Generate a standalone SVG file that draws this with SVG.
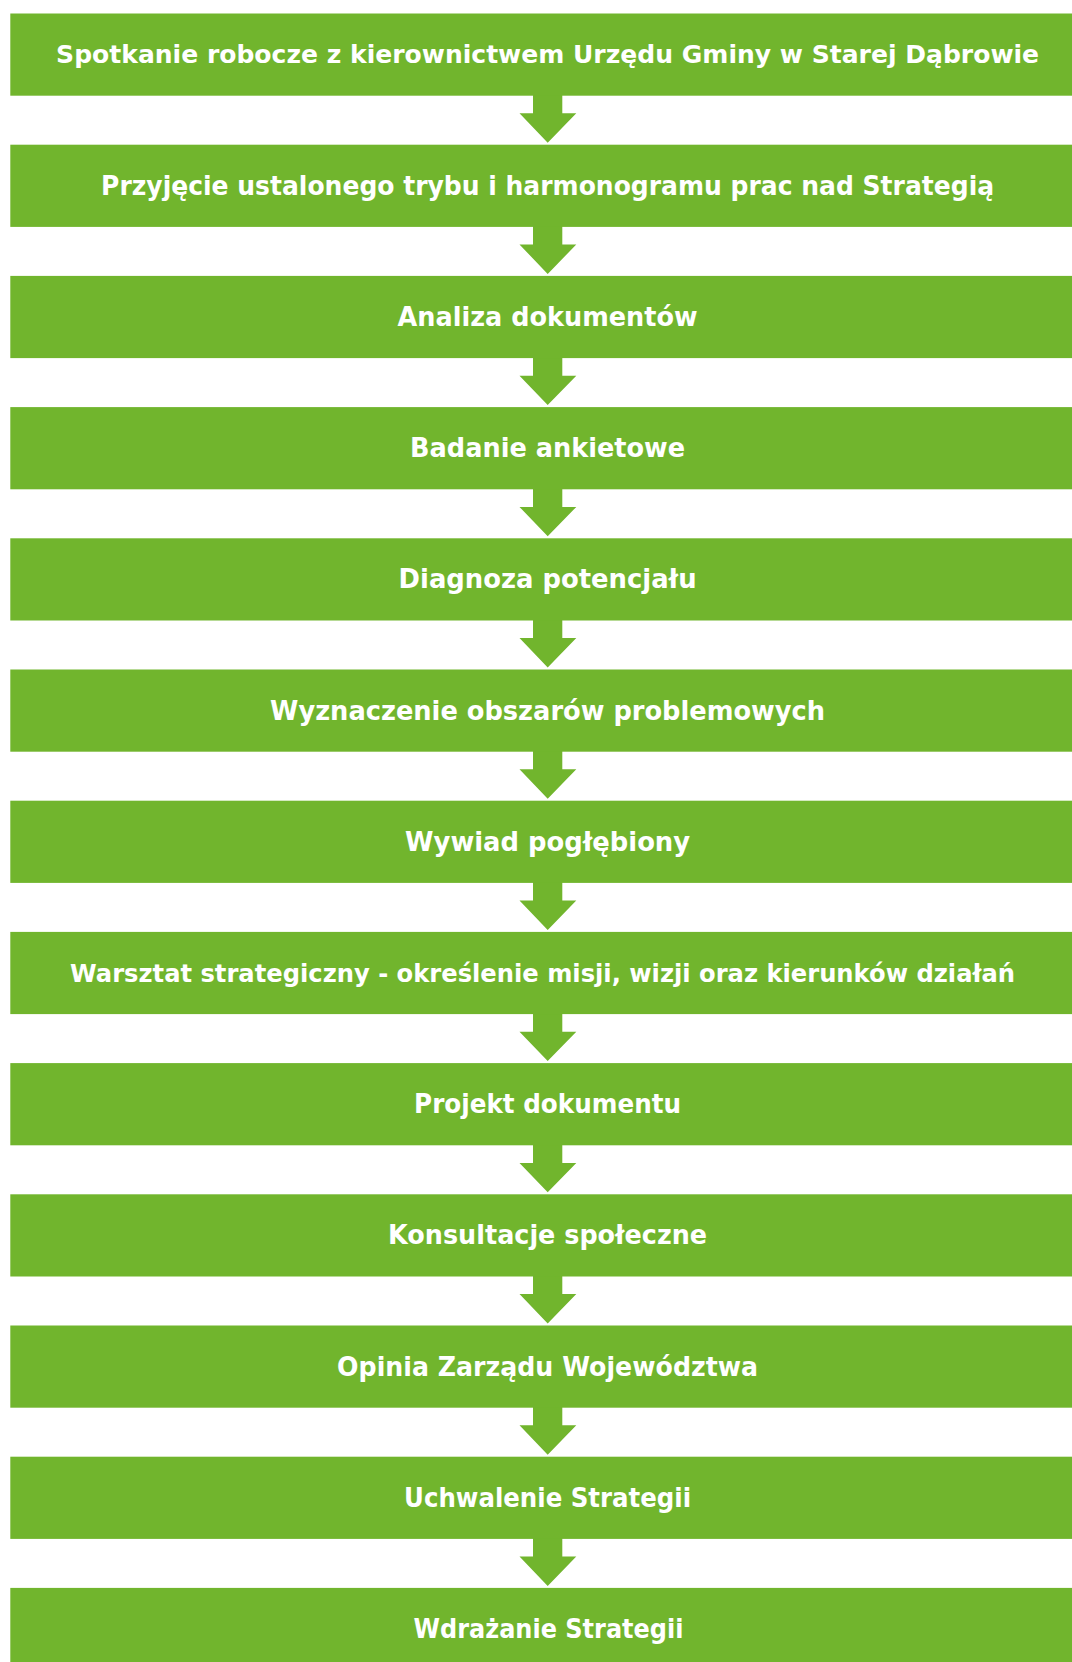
<svg xmlns="http://www.w3.org/2000/svg" xmlns:xlink="http://www.w3.org/1999/xlink" width="1072" height="1662" viewBox="0 0 1072 1662">
<style>
.box{fill:#71B52D;}
.arr{fill:#71B52D;}
.lbl{font-family:"DejaVu Sans","Liberation Sans",sans-serif;font-weight:bold;font-size:26px;fill:#FFFFFF;text-anchor:middle;}
.long{font-size:24px;}
</style>
<defs>
<path id="arrow" d="M533,-1 L562.3,-1 L562.3,17.6 L576.3,17.6 L547.7,47 L519.5,17.6 L533,17.6 Z"/>
</defs>
<rect width="1072" height="1662" fill="#FFFFFF"/>
<g id="connectors" class="arr">
<use xlink:href="#arrow" transform="translate(0,95.7)"/>
<use xlink:href="#arrow" transform="translate(0,226.9)"/>
<use xlink:href="#arrow" transform="translate(0,358.1)"/>
<use xlink:href="#arrow" transform="translate(0,489.3)"/>
<use xlink:href="#arrow" transform="translate(0,620.5)"/>
<use xlink:href="#arrow" transform="translate(0,751.7)"/>
<use xlink:href="#arrow" transform="translate(0,882.9)"/>
<use xlink:href="#arrow" transform="translate(0,1014.1)"/>
<use xlink:href="#arrow" transform="translate(0,1145.3)"/>
<use xlink:href="#arrow" transform="translate(0,1276.5)"/>
<use xlink:href="#arrow" transform="translate(0,1407.7)"/>
<use xlink:href="#arrow" transform="translate(0,1538.9)"/>
</g>
<g id="n1"><rect class="box" x="10.3" y="13.5" width="1075" height="82.2"/><text class="lbl long" x="547.6" y="62.5" textLength="983" lengthAdjust="spacingAndGlyphs">Spotkanie robocze z kierownictwem Urzędu Gminy w Starej Dąbrowie</text></g>
<g id="n2"><rect class="box" x="10.3" y="144.7" width="1075" height="82.2"/><text class="lbl" x="547.6" y="194.5" textLength="893" lengthAdjust="spacingAndGlyphs">Przyjęcie ustalonego trybu i harmonogramu prac nad Strategią</text></g>
<g id="n3"><rect class="box" x="10.3" y="275.9" width="1075" height="82.2"/><text class="lbl" x="547.6" y="325.9" textLength="300" lengthAdjust="spacingAndGlyphs">Analiza dokumentów</text></g>
<g id="n4"><rect class="box" x="10.3" y="407.1" width="1075" height="82.2"/><text class="lbl" x="547.6" y="457.1" textLength="275" lengthAdjust="spacingAndGlyphs">Badanie ankietowe</text></g>
<g id="n5"><rect class="box" x="10.3" y="538.3" width="1075" height="82.2"/><text class="lbl" x="547.6" y="588.3" textLength="298" lengthAdjust="spacingAndGlyphs">Diagnoza potencjału</text></g>
<g id="n6"><rect class="box" x="10.3" y="669.5" width="1075" height="82.2"/><text class="lbl" x="547.6" y="719.5" textLength="555" lengthAdjust="spacingAndGlyphs">Wyznaczenie obszarów problemowych</text></g>
<g id="n7"><rect class="box" x="10.3" y="800.7" width="1075" height="82.2"/><text class="lbl" x="547.6" y="850.7" textLength="285" lengthAdjust="spacingAndGlyphs">Wywiad pogłębiony</text></g>
<g id="n8"><rect class="box" x="10.3" y="931.9" width="1075" height="82.2"/><text class="lbl long" x="542.5" y="982" textLength="945" lengthAdjust="spacingAndGlyphs">Warsztat strategiczny - określenie misji, wizji oraz kierunków działań</text></g>
<g id="n9"><rect class="box" x="10.3" y="1063.1" width="1075" height="82.2"/><text class="lbl" x="547.6" y="1113.1" textLength="267" lengthAdjust="spacingAndGlyphs">Projekt dokumentu</text></g>
<g id="n10"><rect class="box" x="10.3" y="1194.3" width="1075" height="82.2"/><text class="lbl" x="547.6" y="1244.3" textLength="319" lengthAdjust="spacingAndGlyphs">Konsultacje społeczne</text></g>
<g id="n11"><rect class="box" x="10.3" y="1325.5" width="1075" height="82.2"/><text class="lbl" x="547.6" y="1375.5" textLength="421" lengthAdjust="spacingAndGlyphs">Opinia Zarządu Województwa</text></g>
<g id="n12"><rect class="box" x="10.3" y="1456.7" width="1075" height="82.2"/><text class="lbl" x="547.6" y="1506.7" textLength="287" lengthAdjust="spacingAndGlyphs">Uchwalenie Strategii</text></g>
<g id="n13"><rect class="box" x="10.3" y="1587.9" width="1075" height="82.2"/><text class="lbl" x="548.5" y="1637.9" textLength="270" lengthAdjust="spacingAndGlyphs">Wdrażanie Strategii</text></g>
</svg>
